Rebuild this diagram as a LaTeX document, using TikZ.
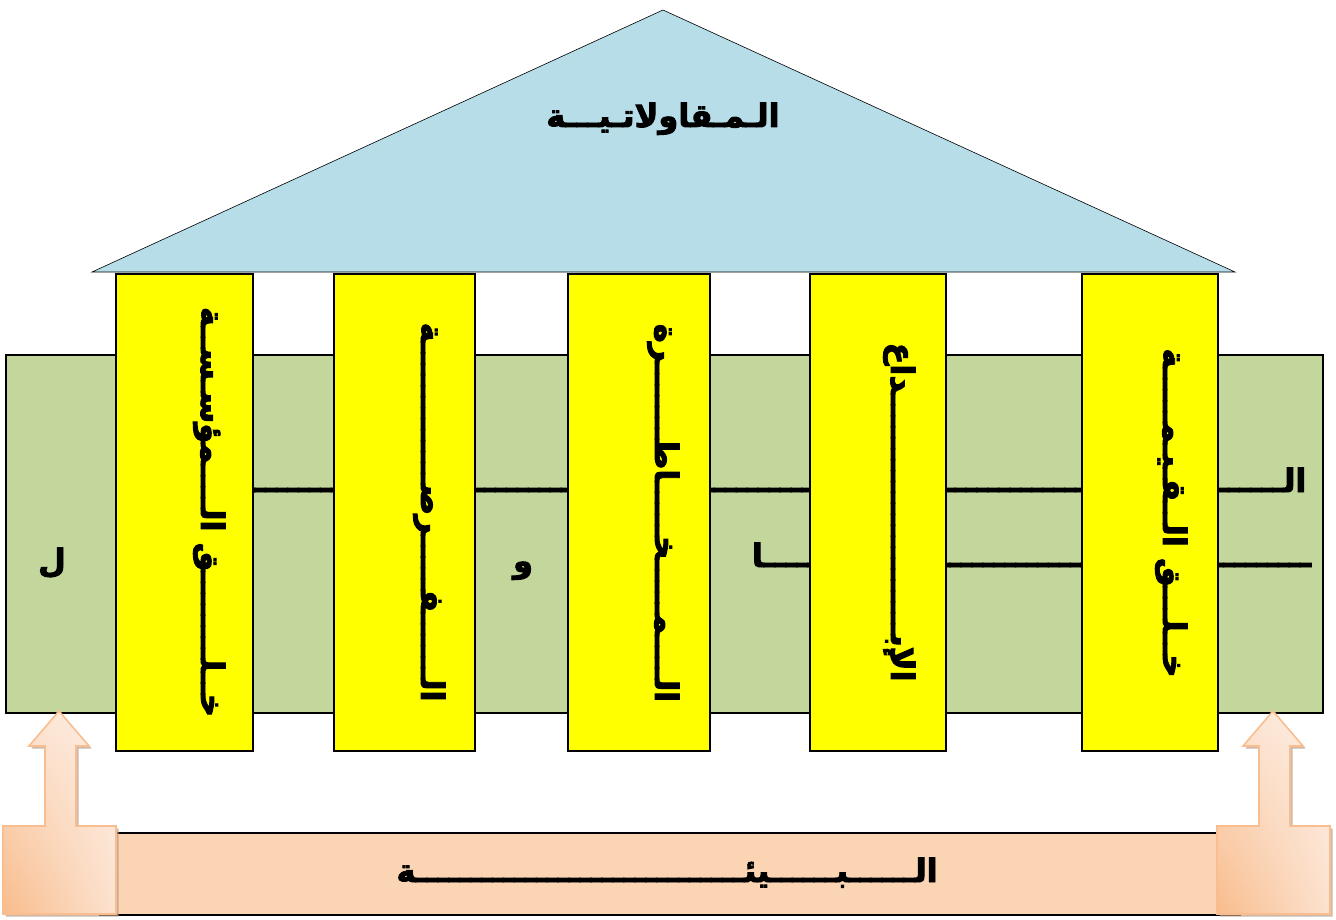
\documentclass[tikz,border=0pt]{standalone}
\usepackage{fontspec}
\usetikzlibrary{shadings}
\newfontfamily\arabicfont[Script=Arabic, BoldFont={DejaVu Sans Bold}, BoldFeatures={FakeBold=3}]{DejaVu Sans}
\TeXXeTstate=1
\ExplSyntaxOn
\cs_new:Npn \tatw #1 { \prg_replicate:nn {#1} {ـ} }
\ExplSyntaxOff
\definecolor{roofblue}{HTML}{B7DEE8}
\definecolor{bandgreen}{HTML}{C3D69B}
\definecolor{pillaryellow}{HTML}{FFFF00}
\definecolor{basepeach}{HTML}{FBD4B4}
\definecolor{arrowdark}{HTML}{F8BC8C}
\definecolor{arrowmid}{HTML}{FCE2CF}
\definecolor{arrowlight}{HTML}{FDEFE5}
\definecolor{arrowedge}{HTML}{F9BE8F}
\definecolor{arrowshadow}{HTML}{B89A86}
\begin{document}
\begin{tikzpicture}[x=1pt,y=-1pt,
  ar/.style={font=\arabicfont\bfseries\fontsize{32}{38}\selectfont, inner sep=0pt, text=black},
  pillartext/.style={ar, rotate=-90, anchor=base},
  pillarbox/.style={draw=black, line width=1.4pt, fill=pillaryellow},
  arrowshape/.style={draw=arrowedge, line width=1.6pt, lower left=arrowdark, lower right=arrowmid, upper left=arrowmid, upper right=arrowlight}]
\useasboundingbox (0,0) rectangle (1336,920);
% roof
\draw[fill=roofblue, line width=0.6pt] (92,272) -- (663,10) -- (1235,272) -- cycle;
\node[ar, anchor=base] (roof) at (663,127) {\beginR الـمـقاولاتـيـــة\endR};
% green band
\draw[fill=bandgreen, line width=1.6pt] (6,355) rectangle (1323,713);
\node[ar, anchor=base east] (gline1) at (1306,492) {\beginR ال\tatw{97}\endR};
\node[ar, anchor=base east] (gline2) at (1311,567) {\beginR \tatw{50}ا\endR};
\node[ar, anchor=base] (gwaw) at (523,572) {\beginR و\endR};
\node[ar, anchor=base] (glam) at (52,572) {\beginR ل\endR};
% pillars
\draw[pillarbox] (116,274) rectangle (253,751);
\draw[pillarbox] (334,274) rectangle (475,751);
\draw[pillarbox] (568,274) rectangle (710,751);
\draw[pillarbox] (810,274) rectangle (946,751);
\draw[pillarbox] (1082,274) rectangle (1218,751);
\node[pillartext] (p1) at (201,512) {\beginR خ\tatw{2}ل\tatw{8}ق ال\tatw{4}مؤس\tatw{1}س\tatw{2}ة\endR};
\node[pillartext] (p2) at (421,512) {\beginR ال\tatw{6}ف\tatw{5}رص\tatw{13}ة\endR};
\node[pillartext] (p3) at (655,513) {\beginR ال\tatw{4}م\tatw{5}خ\tatw{5}اط\tatw{7}رة\endR};
\node[pillartext] (p4) at (891,512) {\beginR الإب\tatw{22}داع\endR};
\node[pillartext] (p5) at (1163,513) {\beginR خ\tatw{2}ل\tatw{3}ق ال\tatw{2}ق\tatw{1}ي\tatw{1}م\tatw{5}ة\endR};
% bottom band
\draw[fill=basepeach, line width=1.6pt] (100,833) rectangle (1240,915);
\node[ar, anchor=base] (env) at (667,882) {\beginR ال\tatw{6}ب\tatw{6}يئ\tatw{30}ة\endR};
% arrows
\foreach \dx/\nm in {0/left,1214/right}{
  \begin{scope}[xshift=\dx pt]
    \fill[arrowshadow, opacity=0.7, xshift=2.5pt, yshift=-2.5pt]
      (3,914) -- (3,826) -- (45,826) -- (45,746) -- (29,746) -- (59,711) -- (89,746) -- (76,746) -- (76,826) -- (116,826) -- (116,914) -- cycle;
    \shade[arrowshape]
      (3,914) -- (3,826) -- (45,826) -- (45,746) -- (29,746) -- (59,711) -- (89,746) -- (76,746) -- (76,826) -- (116,826) -- (116,914) -- cycle;
  \end{scope}
}
\end{tikzpicture}
\end{document}
